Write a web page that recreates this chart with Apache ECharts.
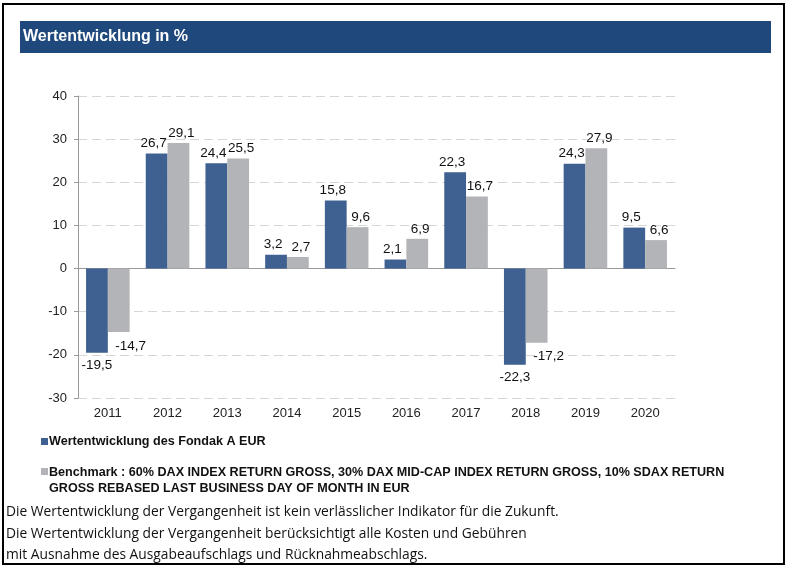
<!DOCTYPE html>
<html>
<head>
<meta charset="utf-8">
<script src="https://cdn.jsdelivr.net/npm/echarts@6/dist/echarts.min.js"></script>
<style>
    html, body {margin: 0; padding: 0; background: #fff;}
    #main {width: 786px; height: 565px;}
</style>
</head>
<body>
<div id="main"></div>
<script>
var years = ['2011', '2012', '2013', '2014', '2015', '2016', '2017', '2018', '2019', '2020'];
var fondak = [-19.5, 26.7, 24.4, 3.2, 15.8, 2.1, 22.3, -22.3, 24.3, 9.5];
var benchmark = [-14.7, 29.1, 25.5, 2.7, 9.6, 6.9, 16.7, -17.2, 27.9, 6.6];
var yTicks = [-30, -20, -10, 0, 10, 20, 30, 40];

var seriesNames = [
    'Wertentwicklung des Fondak A EUR',
    'Benchmark : 60% DAX INDEX RETURN GROSS, 30% DAX MID-CAP INDEX RETURN GROSS, 10% SDAX RETURN\nGROSS REBASED LAST BUSINESS DAY OF MONTH IN EUR'
];
var footerLines = [
    'Die Wertentwicklung der Vergangenheit ist kein verlässlicher Indikator für die Zukunft.',
    'Die Wertentwicklung der Vergangenheit berücksichtigt alle Kosten und Gebühren',
    'mit Ausnahme des Ausgabeaufschlags und Rücknahmeabschlags.'
];

var blue = '#3e6191';
var grey = '#b2b4b7';

var fmt = function (v) {
    return String(v).replace('.', ',');
};

// labels: excel puts them a bit off-center, negative grey ones to the right
var toItems = function (arr, isGrey) {
    return arr.map(function (v) {
        var off;
        if (v >= 0) {
            off = isGrey ? [3, 0] : [-3, 0];
        } else {
            off = isGrey ? [12, 4] : [0, 3];
        }
        return {value: v, label: {offset: off}};
    });
};

var myChart = echarts.init(document.getElementById('main'));

var footer = footerLines.map(function (t, i) {
    return {
        type: 'text',
        left: 6,
        top: 504 + i * 21.8,
        scaleX: 0.92,
        style: {
            text: t,
            fill: '#111',
            font: '15px "Open Sans"'
        }
    };
});

var labelStyle = {
    show: true, position: 'outside', distance: 3,
    color: '#111', fontFamily: 'Liberation Sans', fontSize: 13.5,
    formatter: function (p) { return fmt(p.value); }
};

var option = {
    animation: false,
    grid: {left: 78, right: 111, top: 96, bottom: 167},
    xAxis: [{
        type: 'category',
        data: years,
        axisLine: {show: false, onZero: false},
        axisTick: {show: false},
        axisLabel: {color: '#222', fontFamily: 'Liberation Sans', fontSize: 13, margin: 9}
    }, {
        type: 'category',
        data: years,
        position: 'bottom',
        axisLine: {onZero: true, lineStyle: {color: '#999'}},
        axisTick: {length: 4, lineStyle: {color: '#999'}},
        axisLabel: {show: false}
    }],
    yAxis: {
        type: 'value',
        min: yTicks[0],
        max: yTicks[yTicks.length - 1],
        interval: 10,
        axisLine: {show: true, lineStyle: {color: '#999'}},
        axisTick: {show: true, length: 4, lineStyle: {color: '#999'}},
        axisLabel: {color: '#222', fontFamily: 'Liberation Sans', fontSize: 13, margin: 11},
        splitLine: {lineStyle: {color: '#d6d6d6', type: [9, 5]}}
    },
    series: [{
        name: seriesNames[0],
        type: 'bar',
        data: toItems(fondak, false),
        barGap: '0%',
        barCategoryGap: '27%',
        itemStyle: {color: blue},
        label: labelStyle
    }, {
        name: seriesNames[1],
        type: 'bar',
        data: toItems(benchmark, true),
        itemStyle: {color: grey},
        label: labelStyle
    }],
    graphic: [{
        type: 'rect',
        shape: {x: 3, y: 4, width: 781, height: 560},
        style: {fill: 'none', stroke: '#000', lineWidth: 2}
    }, {
        type: 'rect',
        shape: {x: 20, y: 21, width: 751, height: 32},
        style: {fill: '#1f497d'}
    }, {
        type: 'text',
        left: 23,
        top: 29,
        style: {text: 'Wertentwicklung in %', fill: '#fff', font: 'bold 16px "Liberation Sans"'}
    }, {
        type: 'rect',
        shape: {x: 41, y: 438, width: 7, height: 7},
        style: {fill: blue}
    }, {
        type: 'text',
        left: 49,
        top: 435,
        style: {text: seriesNames[0], fill: '#111', font: 'bold 12.6px "Liberation Sans"'}
    }, {
        type: 'rect',
        shape: {x: 41, y: 468, width: 7, height: 7},
        style: {fill: grey}
    }, {
        type: 'text',
        left: 49,
        top: 465,
        style: {text: seriesNames[1], fill: '#111', font: 'bold 12.6px "Liberation Sans"', lineHeight: 16}
    }].concat(footer)
};
myChart.setOption(option);
</script>
</body>
</html>
